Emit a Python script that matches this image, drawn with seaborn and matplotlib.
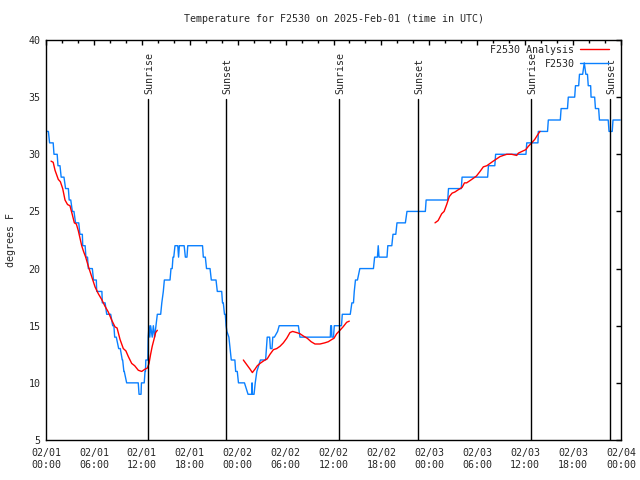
import matplotlib
matplotlib.use("Agg")
import matplotlib.pyplot as plt
import seaborn as sns
import pandas as pd
from matplotlib.lines import Line2D

# hours since 2025-02-01 00:00 UTC
obs_hours = [0.10, 0.30, 0.45, 0.90, 1.00, 1.40, 1.50, 1.75, 1.90, 2.25, 2.45, 2.80,
             2.90, 3.10, 3.30, 3.50, 3.70, 4.10, 4.25, 4.55, 4.60, 4.90, 5.00, 5.20,
             5.30, 5.80, 5.95, 6.30, 6.35, 7.00, 7.05, 7.40, 7.60, 8.10, 8.35, 8.50,
             8.60, 8.80, 9.10, 9.30, 9.55, 9.60, 9.75, 9.80, 10.10, 11.55, 11.65, 11.90,
             11.95, 12.30, 12.40, 12.45, 12.50, 12.75, 12.80, 12.90, 13.00, 13.10, 13.30, 13.44,
             13.60, 13.77, 13.94, 14.36, 14.50, 14.69, 14.82, 15.53, 15.65, 15.80, 15.90, 16.00,
             16.15, 16.50, 16.60, 16.70, 17.30, 17.45, 17.65, 17.75, 19.60, 19.70, 19.95, 20.10,
             20.54, 20.70, 21.29, 21.45, 22.00, 22.10, 22.20, 22.35, 22.45, 22.55, 22.65, 22.90,
             23.20, 23.65, 23.75, 23.95, 24.10, 24.35, 24.85, 25.30, 25.75, 25.80, 25.85, 26.05,
             26.20, 26.40, 26.85, 27.50, 27.60, 27.70, 28.00, 28.10, 28.30, 28.40, 28.60, 29.00,
             29.20, 31.60, 31.80, 35.60, 35.65, 35.75, 35.80, 36.00, 36.10, 37.00, 37.10, 38.10,
             38.30, 38.50, 38.60, 38.75, 39.00, 39.30, 41.00, 41.15, 41.50, 41.60, 41.70, 42.70,
             42.80, 43.30, 43.45, 43.80, 43.95, 45.00, 45.20, 47.50, 47.60, 50.30, 50.40, 52.00,
             52.10, 55.30, 55.40, 56.20, 56.30, 60.10, 60.20, 61.60, 61.65, 62.80, 62.90, 64.40,
             64.50, 65.30, 65.40, 66.20, 66.30, 66.70, 66.80, 67.20, 67.40, 67.60, 67.80, 67.90,
             68.20, 68.25, 68.70, 68.80, 69.20, 69.30, 70.40, 70.50, 70.90, 71.00, 71.90]
obs_temps = [32, 32, 31, 31, 30, 30, 29, 29, 28, 28, 27, 27,
             26, 26, 25, 25, 24, 24, 23, 23, 22, 22, 21, 21,
             20, 20, 19, 19, 18, 18, 17, 17, 16, 16, 15, 15,
             14, 14, 13, 13, 12, 12, 11, 11, 10, 10, 9, 9,
             10, 10, 11, 11, 12, 12, 14, 15, 14, 15, 14, 15,
             14, 15, 16, 16, 17, 18, 19, 19, 20, 20, 21, 21,
             22, 22, 21, 22, 22, 21, 21, 22, 22, 21, 21, 20,
             20, 19, 19, 18, 18, 17, 17, 16, 16, 15, 14.5, 14,
             12, 12, 11, 11, 10, 10, 10, 9, 9, 10, 9, 9,
             10, 11, 12, 12, 13, 14, 14, 13, 13, 14, 14, 14.5,
             15, 15, 14, 14, 15, 15, 14, 14, 15, 15, 16, 16,
             17, 17, 18, 19, 19, 20, 20, 21, 21, 22, 21, 21,
             22, 22, 23, 23, 24, 24, 25, 25, 26, 26, 27, 27,
             28, 28, 29, 29, 30, 30, 31, 31, 32, 32, 33, 33,
             34, 34, 35, 35, 36, 36, 37, 37, 38, 37, 37, 36,
             36, 35, 35, 34, 34, 33, 33, 32, 32, 33, 33]

# analysis series, three separate pieces
ana_hours = [
    [0.63, 0.90, 1.13, 1.54, 1.80, 2.09, 2.38, 2.70, 3.00, 3.30, 3.55, 3.80, 4.05, 4.47,
     4.70, 4.97, 5.30, 5.72, 6.14, 6.55, 6.97, 7.39, 7.80, 8.22, 8.64, 8.90, 9.27, 9.68,
     10.00, 10.31, 10.73, 11.10, 11.56, 11.98, 12.40, 12.70, 12.90, 13.10, 13.30, 13.52,
     13.73, 13.94],
    [24.71, 25.13, 25.55, 25.84, 26.17, 26.46, 26.80, 27.10, 27.42, 27.70, 28.05, 28.47,
     28.89, 29.30, 29.72, 30.14, 30.55, 30.88, 31.39, 31.80, 32.22, 32.72, 33.20, 33.68,
     34.31, 34.90, 35.35, 35.80, 36.06, 36.40, 36.81, 37.20, 37.65, 37.98],
    [48.71, 49.10, 49.55, 49.85, 50.17, 50.50, 50.85, 51.20, 51.63, 52.10, 52.40, 52.67,
     53.10, 53.51, 53.90, 54.35, 54.76, 55.20, 55.60, 56.00, 56.43, 56.85, 57.26, 57.70,
     58.31, 58.94, 59.15, 59.60, 60.07, 60.40, 60.82, 61.20, 61.65, 61.86],
]
ana_temps = [
    [29.4, 29.3, 28.6, 27.8, 27.6, 27.0, 26.0, 25.6, 25.5, 24.7, 24.0, 23.9, 23.3, 22.0,
     21.5, 21.0, 20.2, 19.3, 18.4, 17.8, 17.3, 16.7, 16.2, 15.5, 14.9, 14.8, 13.8, 13.0,
     12.8, 12.3, 11.7, 11.5, 11.1, 11.0, 11.2, 11.3, 11.7, 12.5, 13.2, 13.8,
     14.4, 14.6],
    [12.0, 11.6, 11.2, 10.9, 11.2, 11.5, 11.7, 11.85, 12.0, 12.1, 12.5, 12.9,
     13.0, 13.2, 13.5, 13.9, 14.4, 14.5, 14.4, 14.3, 14.1, 13.9, 13.6, 13.4,
     13.4, 13.5, 13.6, 13.8, 13.9, 14.3, 14.6, 14.9, 15.3, 15.4],
    [24.0, 24.2, 24.8, 25.0, 25.6, 26.3, 26.6, 26.7, 26.9, 27.1, 27.5, 27.5,
     27.7, 27.9, 28.1, 28.5, 28.9, 29.0, 29.2, 29.4, 29.6, 29.8, 29.9, 30.0,
     30.0, 29.9, 30.1, 30.25, 30.4, 30.7, 31.0, 31.3, 31.8, 32.0],
]

sun_hours = [12.77, 22.54, 36.69, 46.58, 60.73, 70.62]
sun_labels = ['Sunrise', 'Sunset', 'Sunrise', 'Sunset', 'Sunrise', 'Sunset']

tick_hours = list(range(0, 73, 6))
tick_labels = ['02/01\n00:00', '02/01\n06:00', '02/01\n12:00', '02/01\n18:00',
               '02/02\n00:00', '02/02\n06:00', '02/02\n12:00', '02/02\n18:00',
               '02/03\n00:00', '02/03\n06:00', '02/03\n12:00', '02/03\n18:00',
               '02/04\n00:00']

RED = '#ff0000'
BLUE = '#0a80ff'


def main():
    sns.set_style('white')
    plt.rcParams['font.family'] = ['DejaVu Sans Mono']
    plt.rcParams['font.size'] = 7.2

    fig = plt.figure(figsize=(6.4, 4.8), dpi=100)
    ax = fig.add_axes([46 / 640, 40 / 480, 575 / 640, 400 / 480])

    obs_df = pd.DataFrame({'hour': obs_hours, 'temp': obs_temps})
    sns.lineplot(data=obs_df, x='hour', y='temp', sort=False, estimator=None,
                 color=BLUE, lw=1.0, ax=ax)

    for hrs, tmps in zip(ana_hours, ana_temps):
        seg = pd.DataFrame({'hour': hrs, 'temp': tmps})
        sns.lineplot(data=seg, x='hour', y='temp', sort=False, estimator=None,
                     color=RED, lw=1.0, ax=ax)

    for h, lab in zip(sun_hours, sun_labels):
        ax.plot([h, h], [5, 34.85], color='black', lw=1.0)
        ax.text(h + 0.15, 35.3, lab, rotation=90, ha='center', va='bottom', fontsize=7.2)

    ax.set_xlim(0, 72)
    ax.set_ylim(5, 40)
    ax.set_xticks(tick_hours)
    ax.set_xticklabels(tick_labels)
    ax.set_xticks(range(0, 73, 2), minor=True)
    ax.set_yticks(range(5, 41, 5))
    ax.tick_params(which='both', direction='in', top=True, right=True,
                   color='black', width=1.0)
    ax.tick_params(which='major', length=3.6)
    ax.tick_params(which='minor', length=2.4)
    ax.tick_params(axis='x', pad=6)
    ax.tick_params(axis='y', pad=4)
    for sp in ax.spines.values():
        sp.set_color('black')
        sp.set_linewidth(1.0)

    ax.set_xlabel('')
    ax.set_ylabel('degrees F')
    ax.yaxis.set_label_coords(-0.052, 0.5)
    ax.set_title('Temperature for F2530 on 2025-Feb-01 (time in UTC)', fontsize=7.2, pad=13)

    handles = [Line2D([], [], color=RED, lw=1.0), Line2D([], [], color=BLUE, lw=1.0)]
    ax.legend(handles, ['F2530 Analysis', 'F2530'], loc='upper right',
              bbox_to_anchor=(0.985, 0.995), frameon=False, markerfirst=False,
              handlelength=2.9, handletextpad=0.6, labelspacing=0.4,
              borderpad=0.2, borderaxespad=0.1)

    fig.savefig('out.png', dpi=100)


if __name__ == "__main__":
    main()
